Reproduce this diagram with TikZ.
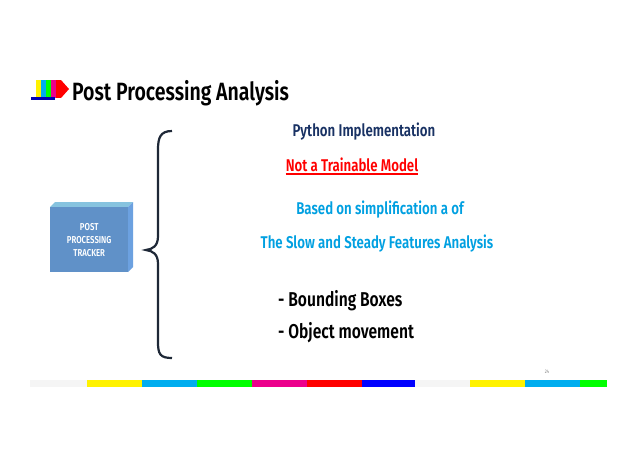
\documentclass[tikz,border=0pt]{standalone}
\usepackage{fontspec}
\usetikzlibrary{calc}
\setmainfont{Fira Sans}[FakeStretch=0.82]
\newfontfamily\cond{Fira Sans SemiBold}[FakeStretch=0.78]
\begin{document}
\begin{tikzpicture}[x=1pt,y=-1pt,
  txt/.style={font=\cond\fontsize{17}{20}\selectfont, inner sep=0pt, anchor=base},
  seg/.style={draw=none}]
\useasboundingbox (0,0) rectangle (638,451);
\fill[white] (0,0) rectangle (638,451);
% icon
\foreach \c/\i in {yellow/0,cyan/1,green/2,magenta/3,red/4}{\fill[\c] (36+\i*5,80) rectangle (41+\i*5,98);}
\fill[red] (61,80) -- (69,89) -- (61,98) -- cycle;
\fill[blue!70!black] (31,97) rectangle (55,100);
\node[txt, anchor=base west, font=\cond\fontsize{25}{28}\selectfont, text=black] (title) at (72,100) {Post Processing Analysis};
% box
\fill[blue!30!gray!60!cyan!60] (50,207) -- (55,202) -- (133,202) -- (128,207) -- cycle;
\fill[blue!50!gray!70!cyan!70] (128,207) -- (133,202) -- (133,267) -- (128,272) -- cycle;
\node[fill={rgb,255:red,96;green,145;blue,200}, minimum width=78pt, minimum height=65pt, anchor=north west, inner sep=0pt,
  text=white, align=center, font=\cond\fontsize{10}{13}\selectfont] (box) at (50,207) {POST\\PROCESSING\\TRACKER};
% brace
\draw[line width=2.2pt, color={rgb,255:red,30;green,40;blue,55}] (172,131) .. controls (160,131) and (158,138) .. (158,150)
  -- (158,236) .. controls (158,246) and (153,249) .. (146,250) coordinate (tip)
  .. controls (153,251) and (158,254) .. (158,264) -- (158,342) .. controls (158,354) and (160,358) .. (172,358);
\node[txt, text={rgb,255:red,25;green,50;blue,100}] (py) at (364,136) {Python Implementation};
\node[txt, text=red] (nt) at (352,171) {Not a Trainable Model};
\draw[red, line width=1.2pt] ($(nt.base west)+(0,3)$) -- ($(nt.base east)+(0,3)$);
\node[txt, text={rgb,255:red,0;green,160;blue,225}] (b1) at (380,214) {Based on simplification a of};
\node[txt, text={rgb,255:red,0;green,160;blue,225}] (b2) at (377,248) {The Slow and Steady Features Analysis};
\node[txt, anchor=base west, text=black, font=\cond\fontsize{20}{24}\selectfont] (l1) at (278,306) {- Bounding Boxes};
\node[txt, anchor=base west, text=black, font=\cond\fontsize{20}{24}\selectfont] (l2) at (278,338) {- Object movement};
\node[font=\fontsize{5}{6}\selectfont, text=gray] (num) at (547,372) {24};
% bar
\foreach \a/\b/\c in {30/87/gray!8,87/142/yellow,142/197/cyan,197/252/green,252/307/magenta,307/362/red,362/415/blue,415/470/gray!8,470/525/yellow,525/580/cyan,580/607/green}
  \fill[\c] (\a,380) rectangle (\b,387);
\end{tikzpicture}
\end{document}
